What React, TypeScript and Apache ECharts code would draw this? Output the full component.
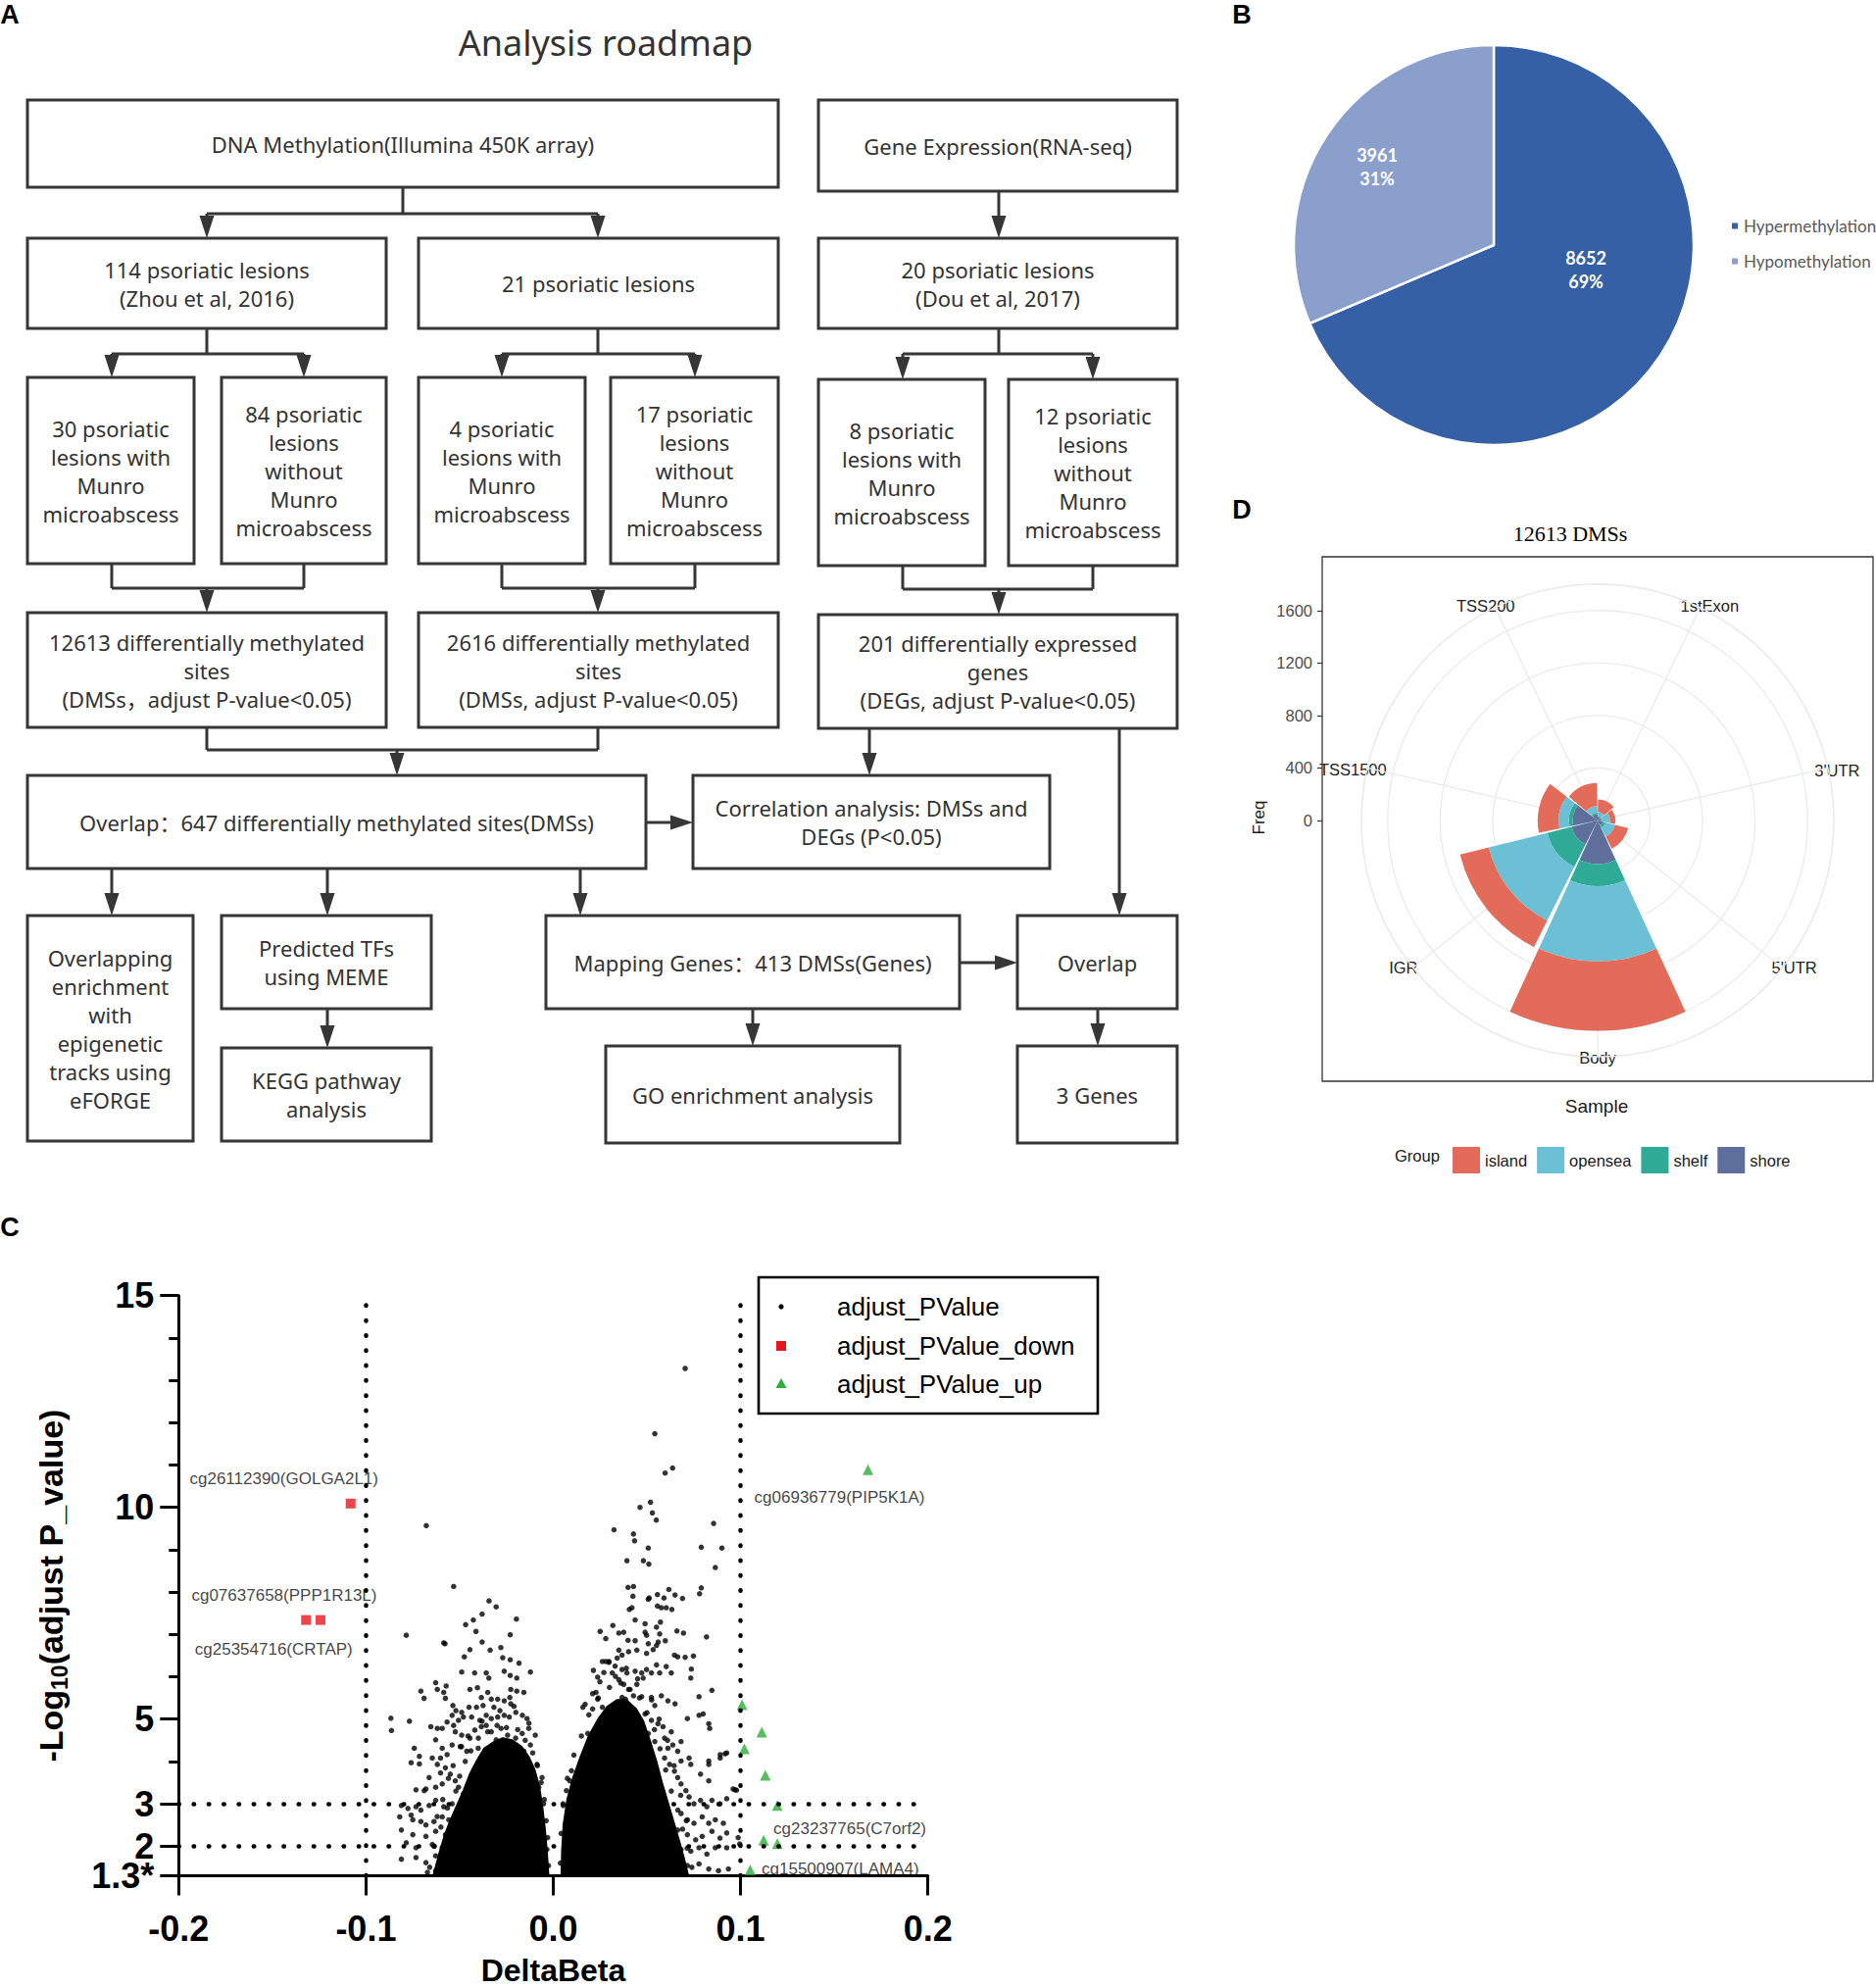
import React, { useEffect, useRef } from "react";
import * as echarts from "echarts";

const W = 1914;
const H = 2028;

// ---------------- Panel B: pie ----------------
const PIE_NAMES = ["Hypermethylation", "Hypomethylation"];
const PIE_VALUES = [8652, 3961];
const PIE_COLORS = ["#3560A5", "#8B9FCD"];

// ---------------- Panel D: polar stacked bars ----------------
const CATEGORIES = ["1stExon", "3'UTR", "5'UTR", "Body", "IGR", "TSS1500", "TSS200"];
const GROUPS = ["island", "opensea", "shelf", "shore"];
const SHORE = [25, 25, 42, 331, 205, 190, 50];
const SHELF = [10, 10, 20, 170, 190, 29, 12];
const OPENSEA = [30, 60, 75, 573, 460, 78, 50];
const ISLAND = [95, 40, 103, 528, 225, 160, 173];
const GROUP_VALUES: Record<string, number[]> = { island: ISLAND, opensea: OPENSEA, shelf: SHELF, shore: SHORE };
const GROUP_COLORS: Record<string, string> = { island: "#E26B5A", opensea: "#6CC0D5", shelf: "#2FAA96", shore: "#5F6F9C" };
const FREQ_TICKS_MAX = 1600;
const FREQ_INTERVAL = 400;
const RADIUS_MAX = 1800;

// ---------------- Panel C: volcano ----------------
const SERIES_NAMES = ["adjust_PValue", "adjust_PValue_down", "adjust_PValue_up"];
const Y_TICK_VALUES = [1.3, 2, 3, 5, 10, 15];
const Y_LABELS_MAIN = [1.3, 3, 5, 10, 15];
const Y_LABELS_EXTRA = [2];
const Y_MINOR_TICKS = [4, 6, 7, 8, 9, 11, 12, 13, 14];
const CUT_X = [-0.1, 0.1];
const CUT_Y = [3, 2];

// envelope of the saturated (solid black) cores
const LEFT_CORE = [
  [-0.064, 1.3], [-0.061, 1.8], [-0.058, 2.25], [-0.055, 2.6], [-0.0515, 2.95], [-0.048, 3.3], [-0.0445, 3.7],
  [-0.041, 4.0], [-0.037, 4.3], [-0.032, 4.45], [-0.027, 4.55], [-0.022, 4.5], [-0.017, 4.35], [-0.013, 4.1],
  [-0.01, 3.8], [-0.0075, 3.4], [-0.0058, 2.9], [-0.0045, 2.4], [-0.0035, 1.9], [-0.0026, 1.3],
];
const RIGHT_CORE = [
  [0.0044, 1.3], [0.0047, 1.9], [0.0055, 2.5], [0.0075, 3.1], [0.0105, 3.6], [0.0145, 4.1], [0.019, 4.6],
  [0.024, 5.0], [0.029, 5.3], [0.034, 5.45], [0.039, 5.45], [0.044, 5.25], [0.048, 4.95], [0.0515, 4.5],
  [0.055, 4.0], [0.058, 3.5], [0.061, 3.05], [0.064, 2.6], [0.067, 2.15], [0.0695, 1.75], [0.072, 1.3],
];

const POINTS = [
  // outliers outside the dense window
  [-0.0867, 5.02], [-0.0864, 4.73], [-0.0678, 9.57],
  [0.0704, 13.28], [0.0542, 11.74], [0.0637, 10.93], [0.0597, 10.81], [0.0519, 10.12], [0.0463, 10.0], [0.0529, 9.87],
  [0.055, 9.7], [0.0856, 9.62], [0.0987, 2.2], [0.0995, 2.05], [0.0978, 3.32],
  // v 9.5 - 7.5
  [0.0324, 9.47], [0.0428, 9.37], [0.0434, 9.21], [0.0507, 9.04], [0.079, 9.06], [0.09, 9.04], [0.0393, 8.74],
  [0.0481, 8.74], [0.051, 8.66], [0.0865, 8.58], [-0.0532, 8.13], [0.0399, 8.11], [0.0428, 8.13], [0.0425, 7.9],
  [0.0617, 8.06], [0.065, 7.93], [0.069, 7.85], [0.079, 8.1], [0.0781, 7.96], [0.0512, 7.86], [0.0556, 7.94],
  [0.0591, 7.86], [0.0577, 7.63], [0.0556, 7.67], [0.0603, 7.63], [0.0633, 7.59], [-0.0343, 7.79], [-0.0305, 7.65],
  [0.042, 7.63], [0.0406, 7.59], [0.0507, 7.83],
  // v 7.5 - 6.4
  [-0.038, 7.48], [-0.0427, 7.34], [-0.0468, 7.23], [-0.0197, 7.36], [-0.0413, 7.07], [-0.023, 6.99], [-0.0785, 6.98],
  [-0.0585, 6.8], [-0.0578, 6.78], [-0.038, 6.82], [-0.0445, 6.64], [-0.0475, 6.47], [-0.0337, 6.63], [-0.028, 6.69],
  [-0.027, 6.45], [-0.023, 6.4], [-0.0183, 6.32],
  [0.0437, 7.34], [0.049, 7.25], [0.049, 7.05], [0.0572, 7.29], [0.0551, 7.17], [0.0568, 7.01], [0.0318, 7.21],
  [0.035, 7.03], [0.0376, 7.05], [0.025, 7.07], [0.028, 6.9], [0.0399, 6.86], [0.0437, 6.85], [0.0498, 6.98],
  [0.0507, 6.78], [0.056, 6.82], [0.0598, 6.85], [0.066, 7.08], [0.0695, 7.03], [0.0818, 6.94], [0.035, 6.63],
  [0.0367, 6.51], [0.0402, 6.59], [0.0446, 6.63], [0.0498, 6.55], [0.0533, 6.64], [0.0551, 6.74], [0.0647, 6.51],
  [0.0664, 6.47], [0.0704, 6.46], [0.0748, 6.49], [0.0262, 6.36], [0.0297, 6.36], [0.0341, 6.44],
  // v 6.4 - 5.2
  [-0.0489, 6.11], [-0.042, 6.09], [-0.0358, 6.09], [-0.0344, 5.97], [-0.0262, 6.13], [-0.023, 6.03], [-0.0195, 5.97],
  [-0.0122, 6.11], [-0.0707, 5.66], [-0.069, 5.49], [-0.0628, 5.86], [-0.0619, 5.7], [-0.0585, 5.63], [-0.0572, 5.78],
  [-0.0576, 5.49], [-0.0536, 5.32], [-0.0445, 5.7], [-0.0405, 5.74], [-0.035, 5.63], [-0.0331, 5.47], [-0.0297, 5.47],
  [-0.0262, 5.43], [-0.0227, 5.7], [-0.0195, 5.66], [-0.0157, 5.63], [-0.0384, 5.51], [-0.0317, 5.28], [-0.0232, 5.51],
  [-0.0227, 5.36], [-0.045, 5.28], [-0.041, 5.28], [-0.0375, 5.32],
  [0.0214, 6.15], [0.0237, 5.99], [0.0249, 5.88], [0.028, 6.36], [0.0297, 6.34], [0.0315, 6.09], [0.0332, 6.01],
  [0.0367, 6.17], [0.0393, 6.09], [0.0437, 6.13], [0.0472, 6.09], [0.0498, 6.17], [0.0524, 6.09], [0.035, 5.93],
  [0.0376, 5.82], [0.0402, 5.7], [0.0446, 5.82], [0.048, 5.97], [0.0551, 6.28], [0.0568, 6.09], [0.0603, 6.24],
  [0.063, 6.09], [0.0228, 5.63], [0.0237, 5.47], [0.0367, 5.51], [0.0385, 5.47], [0.0428, 5.55], [0.0472, 5.53],
  [0.0524, 5.51], [0.0542, 5.32], [0.0577, 5.55], [0.0612, 5.43], [0.065, 5.36], [0.0737, 6.18], [0.0734, 5.97],
  [0.0847, 5.68], [0.0778, 5.53], [0.0158, 5.28], [0.021, 5.24], [0.0262, 5.28], [0.0297, 5.26], [0.0329, 5.32],
  // v 5.2 - 4.1
  [-0.0768, 4.95], [-0.0654, 4.82], [-0.0619, 4.78], [-0.0593, 4.78], [-0.0567, 4.93], [-0.054, 5.09], [-0.052, 5.2],
  [-0.0489, 5.16], [-0.0532, 4.85], [-0.0506, 4.97], [-0.048, 5.05], [-0.0436, 5.05], [-0.0392, 4.97], [-0.0358, 5.09],
  [-0.0331, 5.01], [-0.0297, 5.05], [-0.0262, 5.09], [-0.0235, 5.05], [-0.02, 5.16], [-0.0165, 5.09], [-0.014, 5.01],
  [-0.0628, 4.51], [-0.0593, 4.31], [-0.0567, 4.16], [-0.0602, 4.08], [-0.0523, 4.7], [-0.0489, 4.62], [-0.0445, 4.55],
  [-0.0419, 4.74], [-0.0384, 4.82], [-0.0358, 4.85], [-0.0331, 4.7], [-0.0305, 4.51], [-0.0279, 4.78], [-0.0244, 4.62],
  [-0.0201, 4.55], [-0.0166, 4.66], [-0.0131, 4.78], [-0.0096, 4.62], [-0.0122, 4.39], [-0.0157, 4.24], [-0.054, 4.39],
  [-0.0497, 4.35], [-0.0462, 4.24], [-0.0401, 4.31], [-0.0366, 4.16], [-0.0314, 4.2], [-0.0262, 4.28], [-0.0218, 4.16],
  [-0.0183, 4.08], [-0.0742, 4.31], [-0.0715, 4.12], [-0.0759, 3.97], [-0.0715, 3.94],
  [0.0236, 4.85], [0.028, 4.93], [0.0315, 5.01], [0.0367, 5.09], [0.0411, 5.16], [0.0446, 5.05], [0.049, 5.12],
  [0.0524, 4.97], [0.0559, 4.89], [0.0586, 4.82], [0.063, 4.7], [0.0184, 4.66], [0.0201, 4.39], [0.0245, 4.55],
  [0.0297, 4.47], [0.035, 4.7], [0.0402, 4.78], [0.0455, 4.74], [0.0507, 4.66], [0.0542, 4.47], [0.0594, 4.55],
  [0.0638, 4.39], [0.0682, 4.47], [0.0664, 4.24], [0.0612, 4.31], [0.0716, 5.01], [0.0778, 5.09], [0.08, 5.12],
  [0.083, 4.89], [0.0835, 4.78], [0.0725, 4.08], [0.0682, 4.01], [0.0734, 3.93], [0.0891, 4.16], [0.0926, 4.2],
  [0.083, 4.01], [0.0166, 4.08], [0.0149, 3.93], [0.0097, 3.78], [0.0123, 3.66],
  // v 4.1 - 2.9
  [-0.0646, 4.08], [-0.0619, 3.93], [-0.0602, 3.73], [-0.0663, 3.62], [-0.0593, 3.47], [-0.0628, 3.39], [-0.068, 3.35],
  [-0.0733, 3.33], [-0.0689, 3.31], [-0.0576, 3.85], [-0.055, 3.7], [-0.0523, 3.54], [-0.0506, 3.39], [-0.048, 3.23],
  [-0.0811, 2.96], [-0.0776, 2.89], [-0.0733, 2.93], [-0.0707, 2.85], [-0.0663, 2.96], [-0.0628, 3.08], [-0.0585, 2.93],
  [-0.054, 3.0], [-0.0052, 3.0], [-0.006, 3.62], [-0.0078, 3.39], [-0.0087, 3.93],
  [0.0053, 2.96], [0.007, 3.31], [0.0088, 3.54], [0.0149, 3.78], [0.0192, 4.08], [0.014, 3.47], [0.0594, 4.08],
  [0.0621, 3.93], [0.0647, 3.77], [0.0664, 3.62], [0.0682, 3.47], [0.0708, 3.31], [0.0725, 3.16], [0.0751, 3.0],
  [0.0786, 3.08], [0.082, 2.93], [0.0847, 3.08], [0.089, 3.0], [0.0926, 3.12], [0.096, 3.35], [0.083, 3.54],
  [0.0786, 3.7], [0.083, 3.93], [0.0891, 4.08], [0.0917, 4.18], [0.097, 3.33],
  // v 2.9 - 1.3
  [-0.082, 2.69], [-0.0759, 2.73], [-0.075, 2.62], [-0.0707, 2.58], [-0.068, 2.5], [-0.0637, 2.58], [-0.0593, 2.69],
  [-0.0558, 2.62], [-0.0811, 2.38], [-0.075, 2.27], [-0.068, 2.23], [-0.0628, 2.35], [-0.0576, 2.27], [-0.0532, 2.38],
  [-0.0785, 2.08], [-0.0733, 1.96], [-0.0646, 2.04], [-0.0593, 1.96], [-0.055, 2.08], [-0.0523, 1.92], [-0.0811, 1.69],
  [-0.0733, 1.73], [-0.068, 1.61], [-0.0628, 1.77], [-0.0576, 1.69], [-0.0532, 1.77], [-0.0672, 1.38], [-0.0628, 1.42],
  [-0.0576, 1.46], [-0.0532, 1.42], [-0.0034, 1.92], [-0.0026, 1.54],
  [0.0682, 2.77], [0.0716, 2.62], [0.0751, 2.54], [0.0795, 2.69], [0.083, 2.54], [0.0865, 2.62], [0.0908, 2.54],
  [0.0926, 2.31], [0.0664, 2.38], [0.0716, 2.27], [0.076, 2.15], [0.0795, 2.23], [0.0847, 2.35], [0.089, 2.19],
  [0.0682, 1.92], [0.0734, 1.88], [0.0778, 1.96], [0.082, 1.81], [0.0865, 1.96], [0.0926, 1.96], [0.0664, 1.61],
  [0.0716, 1.54], [0.0778, 1.58], [0.083, 1.46], [0.0882, 1.42], [0.0935, 1.46],
  // speckled rim of the dense cores
  [-0.066, 1.5], [-0.0635, 2.0], [-0.06, 2.45], [-0.0565, 2.9], [-0.052, 3.3], [-0.05, 3.65], [-0.047, 4.0],
  [-0.044, 4.25], [-0.04, 4.55], [-0.035, 4.7], [-0.03, 4.85], [-0.025, 4.8], [-0.019, 4.75], [-0.015, 4.5],
  [-0.011, 4.2], [-0.0085, 3.9], [-0.0065, 3.5], [-0.0048, 3.1], [-0.0038, 2.6], [-0.003, 2.2], [-0.0455, 4.6],
  [-0.038, 4.95], [-0.0285, 5.2], [-0.021, 5.3], [-0.013, 4.9], [-0.0535, 3.9], [-0.049, 4.35], [-0.056, 3.6],
  [-0.059, 3.1], [-0.062, 2.7],
  [0.0038, 1.6], [0.0042, 2.3], [0.0052, 3.0], [0.0075, 3.6], [0.011, 4.15], [0.015, 4.6], [0.019, 5.1],
  [0.024, 5.5], [0.03, 5.75], [0.036, 5.85], [0.041, 5.7], [0.046, 5.5], [0.05, 5.15], [0.054, 4.75], [0.057, 4.3],
  [0.06, 3.8], [0.063, 3.3], [0.0665, 2.85], [0.069, 2.4], [0.0715, 1.95], [0.074, 1.5], [0.027, 6.1], [0.033, 6.25],
  [0.039, 6.2], [0.045, 5.95], [0.021, 5.6], [0.017, 5.35], [0.0525, 5.45], [0.0565, 5.0], [0.061, 4.5],
  [0.0645, 3.9], [0.068, 3.2], [0.071, 2.6],
];
const DOWN_POINTS = [[-0.1082, 10.09], [-0.132, 7.34], [-0.1243, 7.34]];
const DOWN_LABELS = ["cg26112390(GOLGA2L1)", "cg25354716(CRTAP)", "cg07637658(PPP1R13L)"];
const UP_POINTS = [
  [0.168, 10.89], [0.1008, 5.34], [0.1113, 4.69], [0.102, 4.3], [0.1132, 3.67], [0.1196, 2.96], [0.1123, 2.14],
  [0.1196, 2.06], [0.1051, 1.44],
];
const UP_LABELS = ["cg06936779(PIP5K1A)", "", "", "", "", "cg23237765(C7orf2)", "", "", "cg15500907(LAMA4)"];

// ---------------- layout (pixels) ----------------
const LABEL_OFFSETS: Record<string, number[]> = {
  "cg26112390(GOLGA2L1)": [-68, -25],
  "cg25354716(CRTAP)": [-33, 30],
  "cg07637658(PPP1R13L)": [-37, -25],
  "cg06936779(PIP5K1A)": [-29, 28],
  "cg23237765(C7orf2)": [74, 24],
  "cg15500907(LAMA4)": [92, -1],
};
// fine placement of the polar category labels (rich-text padding: top, right, bottom, left)
const ANGLE_LABEL_PAD: Record<string, number[]> = {
  TSS200: [0, -14, 6, 0],
  "1stExon": [0, 0, 6, -14],
  Body: [6, 0, 0, 0],
  IGR: [0, 6, 0, 0],
  TSS1500: [0, -6, 3, 0],
};
const VOLCANO = { left: 182.3, top: 1321.7, right: 946.7, bottom: 1913.5 };
const POLAR_C = [1630, 837];
const POLAR_R = 241;
const PIE_C = [1524, 250];
const PIE_R = 204;
const PIE_LABEL_POS = [[1618, 275], [1405, 170]];

const SANS = "'Noto Sans', 'Noto Sans CJK SC', sans-serif";
const ARIAL = "'Liberation Sans', Arial, sans-serif";
const INK = "#363636";

type Box = { x: number; y: number; w: number; h: number; t: string };
const BOXES: Box[] = [
  { x: 28, y: 102, w: 766, h: 89, t: "DNA Methylation(Illumina 450K array)" },
  { x: 835, y: 102, w: 366, h: 93, t: "Gene Expression(RNA-seq)" },
  { x: 28, y: 243, w: 366, h: 92, t: "114 psoriatic lesions\n(Zhou et al, 2016)" },
  { x: 427, y: 243, w: 367, h: 92, t: "21 psoriatic lesions" },
  { x: 835, y: 243, w: 366, h: 92, t: "20 psoriatic lesions\n(Dou et al, 2017)" },
  { x: 28, y: 385, w: 170, h: 190, t: "30 psoriatic\nlesions with\nMunro\nmicroabscess" },
  { x: 226, y: 385, w: 168, h: 190, t: "84 psoriatic\nlesions\nwithout\nMunro\nmicroabscess" },
  { x: 427, y: 385, w: 170, h: 190, t: "4 psoriatic\nlesions with\nMunro\nmicroabscess" },
  { x: 623, y: 385, w: 171, h: 190, t: "17 psoriatic\nlesions\nwithout\nMunro\nmicroabscess" },
  { x: 835, y: 387, w: 170, h: 190, t: "8 psoriatic\nlesions with\nMunro\nmicroabscess" },
  { x: 1029, y: 387, w: 172, h: 190, t: "12 psoriatic\nlesions\nwithout\nMunro\nmicroabscess" },
  { x: 28, y: 625, w: 366, h: 117, t: "12613 differentially methylated\nsites\n(DMSs，adjust P-value<0.05)" },
  { x: 427, y: 625, w: 367, h: 117, t: "2616 differentially methylated\nsites\n(DMSs, adjust P-value<0.05)" },
  { x: 835, y: 627, w: 366, h: 116, t: "201 differentially expressed\ngenes\n(DEGs, adjust P-value<0.05)" },
  { x: 28, y: 791, w: 631, h: 95, t: "Overlap：647 differentially methylated sites(DMSs)" },
  { x: 707, y: 791, w: 364, h: 95, t: "Correlation analysis: DMSs and\nDEGs (P<0.05)" },
  { x: 28, y: 934, w: 169, h: 230, t: "Overlapping\nenrichment\nwith\nepigenetic\ntracks using\neFORGE" },
  { x: 226, y: 934, w: 214, h: 95, t: "Predicted TFs\nusing MEME" },
  { x: 557, y: 934, w: 422, h: 95, t: "Mapping Genes：413 DMSs(Genes)" },
  { x: 1038, y: 934, w: 163, h: 95, t: "Overlap" },
  { x: 226, y: 1069, w: 214, h: 95, t: "KEGG pathway\nanalysis" },
  { x: 618, y: 1067, w: 300, h: 99, t: "GO enrichment analysis" },
  { x: 1038, y: 1067, w: 163, h: 99, t: "3 Genes" },
];

function buildGraphics() {
  const els: any[] = [];
  const lineStyle = { stroke: INK, lineWidth: 3, fill: null };
  const AH = 23;
  const AW = 7.5;
  const poly = (pts: number[][]) => els.push({ type: "polyline", shape: { points: pts }, style: lineStyle });
  const headDown = (x: number, y: number) =>
    els.push({ type: "polygon", shape: { points: [[x - AW, y - AH], [x + AW, y - AH], [x, y]] }, style: { fill: INK } });
  const headRight = (x: number, y: number) =>
    els.push({ type: "polygon", shape: { points: [[x - AH, y - AW], [x - AH, y + AW], [x, y]] }, style: { fill: INK } });
  const vArrow = (x: number, y0: number, y1: number) => { poly([[x, y0], [x, y1 - AH + 2]]); headDown(x, y1); };
  const hArrow = (x0: number, x1: number, y: number) => { poly([[x0, y], [x1 - AH + 2, y]]); headRight(x1, y); };
  const split = (x: number, y0: number, ym: number, xs: number[], y1: number) => {
    poly([[x, y0], [x, ym]]);
    poly([[Math.min(...xs), ym], [Math.max(...xs), ym]]);
    xs.forEach((xx) => vArrow(xx, ym, y1));
  };
  const merge = (xs: number[], y0: number, ym: number, x: number, y1: number) => {
    xs.forEach((xx) => poly([[xx, y0], [xx, ym]]));
    poly([[Math.min(...xs), ym], [Math.max(...xs), ym]]);
    vArrow(x, ym, y1);
  };

  BOXES.forEach((b) => {
    els.push({ type: "rect", shape: { x: b.x, y: b.y, width: b.w, height: b.h }, style: { fill: "#fff", stroke: INK, lineWidth: 3 } });
    els.push({
      type: "text",
      x: b.x + b.w / 2,
      y: b.y + b.h / 2,
      style: {
        text: b.t, fill: "#333", fontSize: 22, fontFamily: SANS, lineHeight: 29,
        align: "center", verticalAlign: "middle", textAlign: "center", textVerticalAlign: "middle",
      },
    });
  });

  split(411, 191, 218, [211, 610], 243);
  vArrow(1019, 195, 243);
  split(211, 335, 361, [114, 310], 385);
  split(610, 335, 361, [512, 709], 385);
  split(1019, 335, 361, [921, 1115], 387);
  merge([114, 310], 575, 600, 211, 625);
  merge([512, 709], 575, 600, 610, 625);
  merge([921, 1115], 577, 601, 1019, 627);
  merge([211, 610], 742, 765, 405, 791);
  vArrow(887, 743, 791);
  vArrow(1142, 743, 934);
  hArrow(659, 707, 839);
  vArrow(114, 886, 934);
  vArrow(334, 886, 934);
  vArrow(592, 886, 934);
  hArrow(979, 1038, 982);
  vArrow(334, 1029, 1069);
  vArrow(768, 1029, 1067);
  vArrow(1120, 1029, 1067);

  const txt = (x: number, y: number, text: string, s: any, z = 50) =>
    els.push({ type: "text", x, y, z, style: { text, align: "center", verticalAlign: "middle", textAlign: "center", textVerticalAlign: "middle", ...s } });

  txt(618, 43, "Analysis roadmap", { fontSize: 36, fontFamily: SANS, fill: "#333" });
  const panel = { fontSize: 27, fontWeight: "bold", fontFamily: ARIAL, fill: "#000" };
  txt(10, 15, "A", panel);
  txt(1267, 15, "B", panel);
  txt(10, 1252, "C", panel);
  txt(1267, 520, "D", panel);

  // pie labels (drawn over the slices)
  const total = PIE_VALUES.reduce((a, b) => a + b, 0);
  PIE_VALUES.forEach((v, i) => {
    txt(PIE_LABEL_POS[i][0], PIE_LABEL_POS[i][1], `${v}\n${Math.round((v / total) * 100)}%`, {
      fontSize: 18, fontWeight: "bold", fontFamily: "Lato, sans-serif", fill: "#fff", lineHeight: 24,
    }, 100);
  });

  // panel D frame and texts
  els.push({ type: "rect", shape: { x: 1349, y: 568, width: 562, height: 535 }, style: { fill: null, stroke: "#333", lineWidth: 1.3 }, z: 10 });
  txt(1602, 544, "12613 DMSs", { fontSize: 22, fontFamily: "'Liberation Serif', 'DejaVu Serif', serif", fill: "#000" });
  txt(1629, 1128, "Sample", { fontSize: 19, fontFamily: ARIAL, fill: "#1a1a1a" });
  els.push({
    type: "text", x: 1284, y: 834, rotation: Math.PI / 2,
    style: { text: "Freq", fontSize: 17, fontFamily: ARIAL, fill: "#1a1a1a", align: "center", verticalAlign: "middle", textAlign: "center", textVerticalAlign: "middle" },
  });
  els.push({
    type: "text", x: 1423, y: 1179,
    style: { text: "Group", fontSize: 16.5, fontFamily: ARIAL, fill: "#1a1a1a", align: "left", verticalAlign: "middle", textAlign: "left", textVerticalAlign: "middle" },
  });

  // panel C legend
  els.push({ type: "rect", shape: { x: 774, y: 1303, width: 346, height: 139 }, style: { fill: "#fff", stroke: "#000", lineWidth: 2.6 }, z: 20 });
  const ly = [1333, 1373, 1412];
  els.push({ type: "circle", shape: { cx: 797, cy: ly[0], r: 2.6 }, style: { fill: "#000" }, z: 21 });
  els.push({ type: "rect", shape: { x: 792, y: ly[1] - 5, width: 10, height: 10 }, style: { fill: "#E8161E" }, z: 21 });
  els.push({ type: "polygon", shape: { points: [[797, ly[2] - 6], [802.5, ly[2] + 4], [791.5, ly[2] + 4]] }, style: { fill: "#2EAD3A" }, z: 21 });
  SERIES_NAMES.forEach((n, i) => {
    els.push({
      type: "text", x: 854, y: ly[i], z: 21,
      style: { text: n, fontSize: 26, fontFamily: ARIAL, fill: "#000", align: "left", verticalAlign: "middle", textAlign: "left", textVerticalAlign: "middle" },
    });
  });
  return els;
}

function labelledData(points: number[][], labels: string[], half: number) {
  return points.map((p, i) => {
    const l = labels[i];
    if (!l) return { value: p };
    const off = LABEL_OFFSETS[l] || [0, 0];
    return {
      value: p,
      label: {
        show: true, formatter: l, position: [half + off[0], half + off[1]], align: "center", verticalAlign: "middle",
        color: "#111", fontSize: 17, fontFamily: ARIAL,
      },
    };
  });
}

function buildOption() {
  const axisBlack = { color: "#000", width: 3 };
  const yLabelStyle = {
    showMinLabel: true, showMaxLabel: true, hideOverlap: false,
    margin: 25, fontSize: 36, fontWeight: "bold", fontFamily: ARIAL, color: "#000",
    formatter: (v: number) => (Math.abs(v - 1.3) < 1e-6 ? "1.3*" : String(Math.round(v))),
  };
  const barSeries = ["shore", "shelf", "opensea", "island"].map((g) => ({
    type: "bar",
    name: g,
    coordinateSystem: "polar",
    polarIndex: 0,
    stack: "freq",
    data: GROUP_VALUES[g],
    barCategoryGap: "4%",
    itemStyle: { color: GROUP_COLORS[g] },
    z: 3,
  }));
  const angleRich: Record<string, any> = {};
  Object.keys(ANGLE_LABEL_PAD).forEach((k, i) => {
    angleRich["p" + i] = { padding: ANGLE_LABEL_PAD[k], fontSize: 16.5, color: "#222", fontFamily: ARIAL };
  });
  const padKeys = Object.keys(ANGLE_LABEL_PAD);

  return {
    animation: false,
    backgroundColor: "#fff",
    graphic: { elements: buildGraphics() },
    legend: [
      {
        data: GROUPS, left: 1477, top: 1165, orient: "horizontal", itemWidth: 28, itemHeight: 27, itemGap: 10,
        icon: "rect", selectedMode: false, textStyle: { fontSize: 16.5, color: "#1a1a1a", fontFamily: ARIAL },
      },
      {
        data: PIE_NAMES, left: 1760, top: 217, orient: "vertical", itemWidth: 8, itemHeight: 8, itemGap: 19,
        icon: "rect", selectedMode: false, textStyle: { fontSize: 17, color: "#595959", fontFamily: "Lato, sans-serif" },
      },
    ],
    polar: [
      { center: POLAR_C, radius: [0, POLAR_R] },
      { center: POLAR_C, radius: [0, POLAR_R] },
    ],
    angleAxis: [
      {
        polarIndex: 0, type: "category", startAngle: 90, clockwise: true, data: CATEGORIES,
        axisLine: { show: true, lineStyle: { color: "#EBEBEB", width: 1.3 } },
        axisTick: { show: false }, splitLine: { show: false },
        axisLabel: {
          margin: -14, fontSize: 16.5, color: "#222", fontFamily: ARIAL,
          formatter: (v: string) => {
            const i = padKeys.indexOf(v);
            return i >= 0 ? `{p${i}|${v}}` : v;
          },
          rich: angleRich,
        },
        z: 1,
      },
      {
        polarIndex: 1, type: "value", min: 0, max: CATEGORIES.length, interval: 1,
        startAngle: 90 - 360 / CATEGORIES.length / 2, clockwise: true,
        axisLine: { show: false }, axisTick: { show: false }, axisLabel: { show: false },
        splitLine: { show: true, lineStyle: { color: "#EBEBEB", width: 1.3 } },
        z: 1,
      },
    ],
    radiusAxis: [
      {
        polarIndex: 0, type: "value", min: 0, max: RADIUS_MAX, interval: FREQ_INTERVAL,
        axisLine: { show: false }, axisTick: { show: false }, axisLabel: { show: false },
        splitLine: { show: true, lineStyle: { color: "#EBEBEB", width: 1.3 } },
        z: 1,
      },
      {
        polarIndex: 1, type: "value", min: 0, max: RADIUS_MAX,
        axisLine: { show: false }, axisTick: { show: false }, axisLabel: { show: false }, splitLine: { show: false },
      },
    ],
    grid: [
      {
        left: VOLCANO.left, top: VOLCANO.top, width: VOLCANO.right - VOLCANO.left, height: VOLCANO.bottom - VOLCANO.top,
        outerBoundsMode: "none", containLabel: false,
      },
      {
        left: 1349, top: POLAR_C[1] - (POLAR_R * FREQ_TICKS_MAX) / RADIUS_MAX, width: 2,
        height: (POLAR_R * FREQ_TICKS_MAX) / RADIUS_MAX, outerBoundsMode: "none", containLabel: false,
      },
    ],
    xAxis: [
      {
        gridIndex: 0, type: "value", min: -0.2, max: 0.2, interval: 0.1,
        axisLine: { show: true, onZero: false, lineStyle: axisBlack },
        axisTick: { show: true, length: 20, lineStyle: axisBlack },
        splitLine: { show: false },
        axisLabel: {
          margin: 36, fontSize: 36, fontWeight: "bold", fontFamily: ARIAL, color: "#000",
          formatter: (v: number) => (Math.abs(v) < 1e-9 ? "0.0" : v.toFixed(1)),
        },
        name: "DeltaBeta", nameLocation: "middle", nameGap: 80,
        nameTextStyle: { fontSize: 32, fontWeight: "bold", fontFamily: ARIAL, color: "#000", lineHeight: 32 },
      },
      { gridIndex: 1, type: "value", show: false, min: 0, max: 1 },
    ],
    yAxis: [
      {
        gridIndex: 0, type: "value", min: 1.3, max: 15, position: "left",
        axisLine: { show: true, onZero: false, lineStyle: axisBlack },
        axisTick: { show: true, length: 19, lineStyle: axisBlack, customValues: Y_TICK_VALUES },
        splitLine: { show: false },
        axisLabel: { ...yLabelStyle, customValues: Y_LABELS_MAIN },
        name: "{a|-Log}{s|10}{a|(adjust P_value)}", nameLocation: "middle", nameGap: 110,
        nameTextStyle: {
          rich: {
            a: { fontSize: 34, fontWeight: "bold", fontFamily: ARIAL, color: "#000", lineHeight: 40 },
            s: { fontSize: 23, fontWeight: "bold", fontFamily: ARIAL, color: "#000", lineHeight: 40, verticalAlign: "bottom", padding: [14, 0, 0, 0] },
          },
        },
      },
      {
        gridIndex: 0, type: "value", min: 1.3, max: 15, position: "left", offset: 0,
        axisLine: { show: false, onZero: false },
        axisTick: { show: true, length: 10, lineStyle: axisBlack, customValues: Y_MINOR_TICKS },
        axisLabel: { ...yLabelStyle, customValues: Y_LABELS_EXTRA },
        splitLine: { show: false },
      },
      {
        gridIndex: 1, type: "value", min: 0, max: FREQ_TICKS_MAX, interval: FREQ_INTERVAL, position: "left",
        axisLine: { show: false, onZero: false },
        axisTick: { show: true, length: 5, lineStyle: { color: "#333", width: 1.2 } },
        splitLine: { show: false },
        axisLabel: { margin: 10, fontSize: 16.5, color: "#4D4D4D", fontFamily: ARIAL, formatter: (v: number) => String(v) },
      },
    ],
    series: [
      ...barSeries,
      {
        type: "pie", name: "methylation", center: PIE_C, radius: [0, PIE_R], startAngle: 90, clockwise: true,
        label: { show: false }, labelLine: { show: false },
        itemStyle: { borderColor: "#fff", borderWidth: 2.5 },
        data: PIE_NAMES.map((n, i) => ({ name: n, value: PIE_VALUES[i], itemStyle: { color: PIE_COLORS[i] } })),
      },
      {
        type: "line", name: "core_left", xAxisIndex: 0, yAxisIndex: 0, data: LEFT_CORE, symbol: "none", smooth: false,
        lineStyle: { color: "#000", width: 2 }, areaStyle: { color: "#000", opacity: 1, origin: "start" }, z: 2,
      },
      {
        type: "line", name: "core_right", xAxisIndex: 0, yAxisIndex: 0, data: RIGHT_CORE, symbol: "none", smooth: false,
        lineStyle: { color: "#000", width: 2 }, areaStyle: { color: "#000", opacity: 1, origin: "start" }, z: 2,
      },
      {
        type: "scatter", name: SERIES_NAMES[0], xAxisIndex: 0, yAxisIndex: 0, data: POINTS, symbol: "circle", symbolSize: 5.5,
        itemStyle: { color: "#000" }, z: 3,
        markLine: {
          silent: true, symbol: ["none", "none"], label: { show: false },
          lineStyle: { color: "#000", width: 4.5, type: [0.5, 14.8], cap: "round" },
          data: [...CUT_X.map((x) => ({ xAxis: x })), ...CUT_Y.map((y) => ({ yAxis: y }))],
        },
      },
      {
        type: "scatter", name: SERIES_NAMES[1], xAxisIndex: 0, yAxisIndex: 0, symbol: "rect", symbolSize: 10,
        itemStyle: { color: "#E8161E" }, data: labelledData(DOWN_POINTS, DOWN_LABELS, 5), z: 4,
      },
      {
        type: "scatter", name: SERIES_NAMES[2], xAxisIndex: 0, yAxisIndex: 0, symbol: "triangle", symbolSize: 11,
        itemStyle: { color: "#2EAD3A" }, data: labelledData(UP_POINTS, UP_LABELS, 5.5), z: 4,
      },
    ],
  };
}

export default function App() {
  const ref = useRef<HTMLDivElement>(null);
  useEffect(() => {
    if (!ref.current) return;
    const chart = echarts.init(ref.current, null, { renderer: "svg", width: W, height: H });
    chart.setOption(buildOption() as any);
    return () => chart.dispose();
  }, []);
  return <div ref={ref} style={{ position: "absolute", left: 0, top: 0, width: W, height: H, background: "#fff" }} />;
}
